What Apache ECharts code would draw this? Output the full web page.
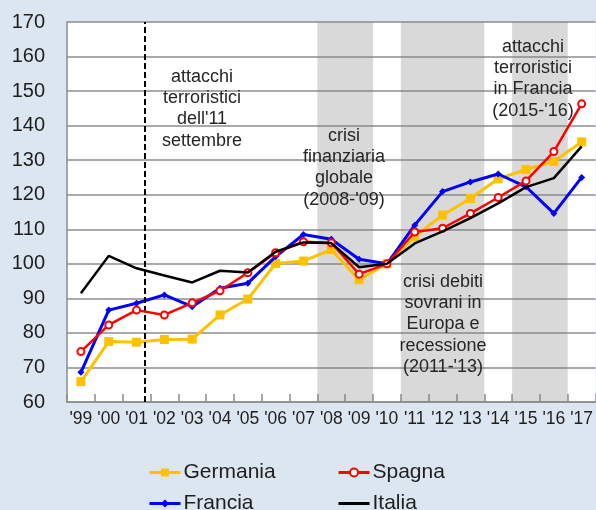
<!DOCTYPE html>
<html>
<head>
<meta charset="utf-8">
<script src="https://cdn.jsdelivr.net/npm/echarts@6/dist/echarts.min.js"></script>
<style>
html,body{margin:0;padding:0;background:#dce6f0;}
#c{width:596px;height:510px;}
</style>
</head>
<body>
<div id="c"></div>
<script>
var categories = ["'99","'00","'01","'02","'03","'04","'05","'06","'07","'08","'09","'10","'11","'12","'13","'14","'15","'16","'17"];
var germania = [65.9,77.5,77.3,78.1,78.2,85.2,89.8,100.1,100.8,104.1,95.4,100,107.9,114.1,118.9,124.6,127.3,129.6,135.3];
var spagna   = [74.6,82.3,86.6,85.2,88.7,92.2,97.4,103.2,106.4,106.1,97.0,100,109.2,110.3,114.6,119.2,124.0,132.5,146.3];
var francia  = [68.6,86.6,88.6,91.0,87.6,92.9,94.4,102.1,108.5,107.1,101.3,100,111.2,120.9,123.7,126.0,122.3,114.6,125.0];
var italia   = [91.5,102.3,98.7,96.6,94.6,98.0,97.5,103.5,106.2,106.0,99.0,100,105.9,109.4,113.2,117.5,122.2,124.8,134.0];
var yTicks = {min:60, max:170, interval:10};
// shaded periods (year bounds) and event line (year)
var bands = [[2007.5,2009.5],[2010.5,2013.5],[2014.5,2016.5]];
var eventYear = [2001.3];
var notes = [
  {text:"attacchi\nterroristici\ndell'11\nsettembre", x:202, y:66},
  {text:"crisi\nfinanziaria\nglobale\n(2008-'09)", x:344, y:125},
  {text:"attacchi\nterroristici\nin Francia\n(2015-'16)", x:533, y:36},
  {text:"crisi debiti\nsovrani in\nEuropa e\nrecessione\n(2011-'13)", x:443, y:271}
];

var font = "'Liberation Sans', Arial, sans-serif";
var legendText = {fontFamily:font, fontSize:21, color:'#1e1e1e', padding:[0,0,0,-2]};
var chart = echarts.init(document.getElementById('c'));
chart.setOption({
  animation:false,
  backgroundColor:'#dce6f0',
  grid:{left:67, right:-2, top:22, bottom:108, show:true, backgroundColor:'#ffffff', borderWidth:0},
  xAxis:[{
    type:'category', data:categories, boundaryGap:true,
    axisLine:{show:true, lineStyle:{color:'#8c8c8c', width:1.5}},
    axisTick:{show:true, inside:true, length:8, lineStyle:{color:'#8c8c8c', width:1.5}},
    axisLabel:{fontFamily:font, fontSize:17.5, color:'#1e1e1e', margin:8, interval:0},
    splitLine:{show:false}
  },{
    type:'value', min:1998.5, max:2017.5, show:false
  }],
  yAxis:{
    type:'value', min:yTicks.min, max:yTicks.max, interval:yTicks.interval,
    axisLine:{show:true, lineStyle:{color:'#8c8c8c', width:1.5}},
    axisTick:{show:false},
    axisLabel:{fontFamily:font, fontSize:20, color:'#1e1e1e', margin:22},
    splitLine:{show:true, lineStyle:{color:'#8c8c8c', width:1.5}}
  },
  legend:[{
    data:['Germania','Francia'], orient:'vertical', left:148, top:462, height:80,
    itemWidth:31, itemHeight:10, itemGap:10, lineStyle:{width:3},
    textStyle:legendText, padding:0
  },{
    data:['Spagna',{name:'Italia', icon:'path://M0,0L31,0L31,3L0,3Z'}], orient:'vertical', left:337, top:462, height:80,
    itemWidth:31, itemHeight:10, itemGap:10, lineStyle:{width:3},
    textStyle:legendText, padding:0
  }],
  graphic: notes.map(function(n){
    return {type:'text', x:n.x, y:n.y, z:10,
      style:{text:n.text, fill:'#262626', font:'18px '+font, align:'center', verticalAlign:'top', lineHeight:21.3}};
  }),
  series:[
    {name:'bands', type:'line', xAxisIndex:1, data:[], silent:true, z:1,
     markArea:{silent:true, itemStyle:{color:'rgba(128,128,128,0.3)'},
       data: bands.map(function(b){return [{xAxis:b[0]},{xAxis:b[1]}];})},
     markLine:{silent:true, symbol:['none','none'], label:{show:false},
       lineStyle:{color:'#000', width:2, type:[6,3]},
       data: eventYear.map(function(v){return {xAxis:v};})}
    },
    {name:'Germania', type:'line', data:germania, color:'#FFC000', symbol:'rect', symbolSize:9,
     lineStyle:{width:3}, z:3},
    {name:'Francia', type:'line', data:francia, color:'#0000FF', symbol:'diamond', symbolSize:7,
     lineStyle:{width:3}, z:4},
    {name:'Spagna', type:'line', data:spagna, color:'#FF0000', symbol:'emptyCircle', symbolSize:7,
     lineStyle:{width:2.5}, itemStyle:{borderWidth:1.2}, z:5},
    {name:'Italia', type:'line', data:italia, color:'#000000', symbol:'none',
     lineStyle:{width:2.5}, z:6}
  ]
});
</script>
</body>
</html>
